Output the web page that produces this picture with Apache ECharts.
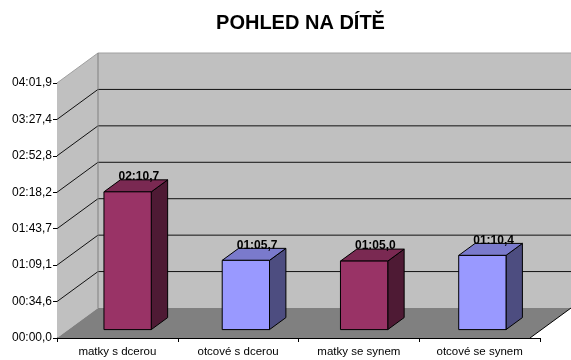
<!DOCTYPE html>
<html>
<head>
<meta charset="utf-8">
<script src="https://cdn.jsdelivr.net/npm/echarts@6/dist/echarts.min.js"></script>
<style>
  html, body { margin: 0; padding: 0; background: #ffffff; }
  #chart { width: 571px; height: 360px; }
</style>
</head>
<body>
<div id="chart"></div>
<script>
// Viewing time per group, in seconds
var categories = ['matky s dcerou', 'otcové s dcerou', 'matky se synem', 'otcové se synem'];
var seconds = [130.7, 65.7, 65.0, 70.4];
// Value axis: 8 ticks, one step = 34.56 s
var axisStep = 34.56;
var axisMax = 241.92;

// mm:ss,t formatting
function fmtTime(v) {
  var t = Math.round(v * 10);
  var m = Math.floor(t / 600);
  var rest = t - m * 600;
  var s = Math.floor(rest / 10);
  var d = rest % 10;
  return (m < 10 ? '0' : '') + m + ':' + (s < 10 ? '0' : '') + s + ',' + d;
}

var FONT = '"Liberation Sans", Arial, sans-serif';
// Depth vector from the back wall to the front plane
var DX = -41, DY = 30;
// Bar depth placement (fraction of depth from the back wall)
var BAR_BACK = 0.32, BAR_FRONT = 0.72;

var palette = [
  { front: '#993366', side: '#4e1a34', top: '#7a2952' },
  { front: '#9999ff', side: '#4d4d80', top: '#7a7acc' }
];

var chart = echarts.init(document.getElementById('chart'), null, { renderer: 'canvas' });

function renderWalls(params, api) {
  var cs = params.coordSys;
  var L = cs.x, T = cs.y, R = cs.x + cs.width, B = cs.y + cs.height;
  var children = [];
  // left side wall
  children.push({
    type: 'polygon',
    shape: { points: [[L, T], [L, B], [L + DX, B + DY], [L + DX, T + DY]] },
    style: { fill: '#c0c0c0', stroke: null }
  });
  // grid lines on the back wall and the side wall
  var n = Math.round(axisMax / axisStep);
  for (var k = 1; k <= n; k++) {
    var y = api.coord([0, k * axisStep])[1];
    var col = k === n ? '#a0a0a0' : '#111111';
    children.push({
      type: 'line',
      shape: { x1: L, y1: y, x2: R, y2: y },
      style: { stroke: col, lineWidth: 1 }
    });
    children.push({
      type: 'line',
      shape: { x1: L + DX, y1: y + DY, x2: L, y2: y },
      style: { stroke: col, lineWidth: 1 }
    });
  }
  // back wall left edge
  children.push({
    type: 'line',
    shape: { x1: L, y1: T, x2: L, y2: B },
    style: { stroke: '#808080', lineWidth: 1 }
  });
  // floor
  children.push({
    type: 'polygon',
    shape: { points: [[L, B], [R, B], [R + DX, B + DY], [L + DX, B + DY]] },
    style: { fill: '#808080', stroke: null }
  });
  // floor right edge
  children.push({
    type: 'line',
    shape: { x1: R + DX, y1: B + DY, x2: R, y2: B },
    style: { stroke: '#000000', lineWidth: 1 }
  });
  return { type: 'group', children: children };
}

function renderBar(params, api) {
  var i = api.value(0), v = api.value(1);
  var base = api.coord([i, 0]);
  var top = api.coord([i, v]);
  var hw = api.size([1, 0])[0] * 0.2;
  var c = palette[i % 2];
  var fx = DX * BAR_FRONT, fy = DY * BAR_FRONT;
  var bx = DX * BAR_BACK, by = DY * BAR_BACK;
  var x0 = base[0] - hw + fx, x1 = base[0] + hw + fx;
  var yb = base[1] + fy, yt = top[1] + fy;
  var x0b = base[0] - hw + bx, x1b = base[0] + hw + bx;
  var ybb = base[1] + by, ytb = top[1] + by;
  var edge = { stroke: '#000000', lineWidth: 1, lineJoin: 'round' };
  return {
    type: 'group',
    children: [
      { type: 'polygon', shape: { points: [[x1, yt], [x1, yb], [x1b, ybb], [x1b, ytb]] },
        style: Object.assign({ fill: c.side }, edge) },
      { type: 'polygon', shape: { points: [[x0, yt], [x1, yt], [x1b, ytb], [x0b, ytb]] },
        style: Object.assign({ fill: c.top }, edge) },
      { type: 'rect', shape: { x: x0, y: yt, width: x1 - x0, height: yb - yt },
        style: Object.assign({ fill: c.front }, edge) },
      { type: 'text', x: (x0 + x1b) / 2 + 3, y: (yt + ytb) / 2 - 9,
        style: { text: fmtTime(v), fill: '#000000', font: 'bold 12px ' + FONT,
                 align: 'center', verticalAlign: 'middle' } }
    ]
  };
}

var option = {
  animation: false,
  backgroundColor: '#ffffff',
  title: {
    text: 'POHLED NA DÍTĚ',
    left: 295.5,
    textAlign: 'center',
    top: 8,
    textStyle: { fontFamily: FONT, fontSize: 20, fontWeight: 'bold', color: '#000000' }
  },
  grid: [
    // back wall plane
    { left: 98, top: 53, width: 483, height: 255, show: true,
      backgroundColor: '#c0c0c0', borderWidth: 0 },
    // front plane (axes and labels)
    { left: 57, top: 83, width: 483, height: 255, show: false }
  ],
  xAxis: [
    { gridIndex: 0, type: 'category', data: categories, show: false },
    { gridIndex: 1, type: 'category', data: categories,
      axisLine: { show: true, lineStyle: { color: '#000000', width: 1 } },
      axisTick: { show: true, length: 4, alignWithLabel: false, lineStyle: { color: '#000000' } },
      axisLabel: { color: '#000000', fontFamily: FONT, fontSize: 11.5, margin: 8, interval: 0 } }
  ],
  yAxis: [
    { gridIndex: 0, type: 'value', min: 0, max: axisMax, interval: axisStep, show: false,
      splitLine: { show: false } },
    { gridIndex: 1, type: 'value', min: 0, max: axisMax, interval: axisStep,
      axisLine: { show: true, lineStyle: { color: '#000000', width: 1 } },
      axisTick: { show: true, length: 4, lineStyle: { color: '#000000' } },
      splitLine: { show: false },
      axisLabel: { color: '#000000', fontFamily: FONT, fontSize: 12, margin: 5,
                   formatter: function (v) { return fmtTime(v); } } }
  ],
  series: [
    { type: 'custom', xAxisIndex: 0, yAxisIndex: 0, data: [[0, 0]],
      renderItem: renderWalls, silent: true, z: 1 },
    { type: 'custom', xAxisIndex: 0, yAxisIndex: 0,
      data: seconds.map(function (v, i) { return [i, v]; }),
      renderItem: renderBar, silent: true, z: 3 }
  ]
};

chart.setOption(option);
</script>
</body>
</html>
